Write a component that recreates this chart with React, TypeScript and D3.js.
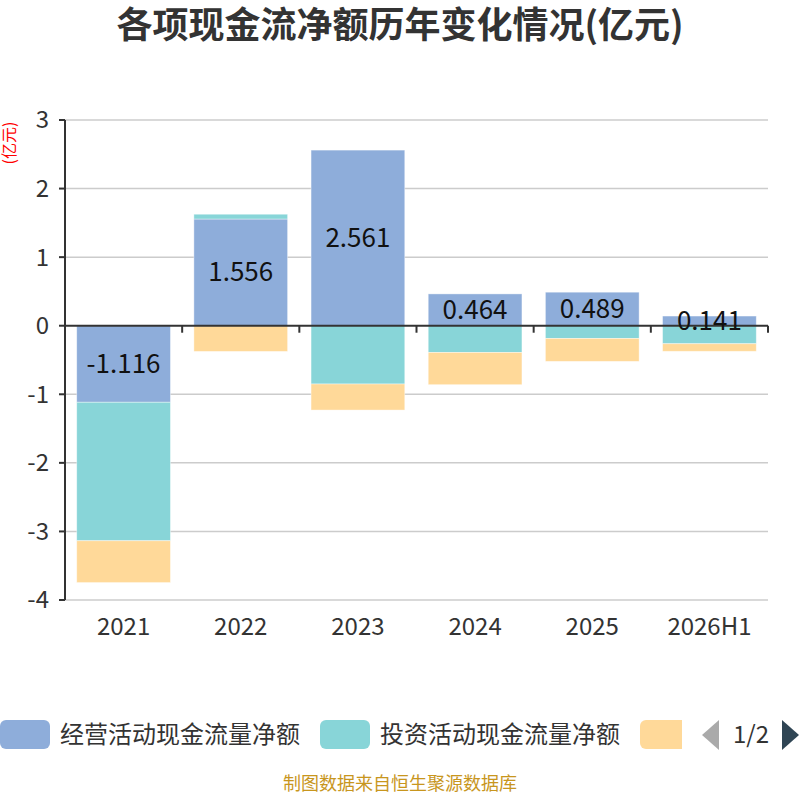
import React from 'react';
import * as d3 from 'd3';

const years = ['2021', '2022', '2023', '2024', '2025', '2026H1'];
const operating = [-1.116, 1.556, 2.561, 0.464, 0.489, 0.141];
const investing = [-2.02, 0.07, -0.85, -0.39, -0.185, -0.263];
const financing = [-0.61, -0.375, -0.38, -0.47, -0.335, -0.11];
const seriesNames = ['经营活动现金流量净额', '投资活动现金流量净额', '筹资活动现金流量净额'];
const seriesColors = ['#8EADDA', '#88D5D8', '#FFD999'];
const yTicks = [3, 2, 1, 0, -1, -2, -3, -4];

const W = 800;
const H = 800;
const left = 65;
const right = 768;
const top = 120;
const bottom = 600;
const font = '"Noto Sans CJK SC", "Noto Sans", sans-serif';

export default function App() {
  const x = d3.scaleBand<string>().domain(years).range([left, right]).paddingInner(0.2).paddingOuter(0.1);
  const band = d3.scaleBand<string>().domain(years).range([left, right]);
  const y = d3.scaleLinear().domain([-4, 3]).range([bottom, top]);

  const all = [operating, investing, financing];
  // stack positives and negatives separately, like echarts does
  const rects: { key: string; x: number; y: number; w: number; h: number; fill: string }[] = [];
  years.forEach((yr, i) => {
    let pos = 0;
    let neg = 0;
    all.forEach((s, k) => {
      const v = s[i];
      const base = v >= 0 ? pos : neg;
      const end = base + v;
      if (v >= 0) pos = end;
      else neg = end;
      rects.push({
        key: `${yr}-${k}`,
        x: x(yr)!,
        y: y(Math.max(base, end)),
        w: x.bandwidth(),
        h: Math.abs(y(base) - y(end)),
        fill: seriesColors[k],
      });
    });
  });

  return (
    <svg width={W} height={H} style={{ position: 'absolute', left: 0, top: 0, background: '#fff' }}>
      <text x={400} y={38} textAnchor="middle" fontSize={36} fontWeight="bold" fill="#333" fontFamily={font}>
        各项现金流净额历年变化情况(亿元)
      </text>
      <text
        transform={`translate(15,143) rotate(-90)`}
        textAnchor="middle"
        fontSize={16}
        fill="#ff0000"
        fontFamily={font}
      >
        (亿元)
      </text>

      {yTicks.map((t) => (
        <g key={t}>
          {t !== 0 && <line x1={left} x2={right} y1={y(t)} y2={y(t)} stroke="#ccc" strokeWidth={1.5} />}
          <line x1={left - 6} x2={left} y1={y(t)} y2={y(t)} stroke="#333" strokeWidth={2} />
          <text x={left - 16} y={y(t)} dy="0.35em" textAnchor="end" fontSize={24} fill="#333" fontFamily={font}>
            {t}
          </text>
        </g>
      ))}

      {rects.map((r) => (
        <rect key={r.key} x={r.x} y={r.y} width={r.w} height={r.h} fill={r.fill} stroke="#fff" strokeOpacity={0.5} strokeWidth={0.8} />
      ))}

      <line x1={left} x2={left} y1={top} y2={bottom} stroke="#333" strokeWidth={2} />
      <line x1={left} x2={right} y1={y(0)} y2={y(0)} stroke="#333" strokeWidth={2} />
      {years.map((yr) => (
        <line
          key={yr}
          x1={band(yr)! + band.bandwidth()}
          x2={band(yr)! + band.bandwidth()}
          y1={y(0)}
          y2={y(0) + 7}
          stroke="#333"
          strokeWidth={2}
        />
      ))}

      {operating.map((v, i) => (
        <text
          key={years[i]}
          x={x(years[i])! + x.bandwidth() / 2}
          y={(y(0) + y(v)) / 2}
          dy="0.35em"
          textAnchor="middle"
          fontSize={26}
          fill="#111"
          fontFamily={font}
        >
          {v.toFixed(3)}
        </text>
      ))}

      {years.map((yr) => (
        <text
          key={yr}
          x={band(yr)! + band.bandwidth() / 2}
          y={627}
          dy="0.35em"
          textAnchor="middle"
          fontSize={24}
          fill="#333"
          fontFamily={font}
        >
          {yr}
        </text>
      ))}

      <g fontFamily={font} fontSize={24} fill="#333">
        <rect x={0} y={720} width={50} height={29} rx={6} fill={seriesColors[0]} />
        <text x={60} y={735} dy="0.35em">{seriesNames[0]}</text>
        <rect x={320} y={720} width={50} height={29} rx={6} fill={seriesColors[1]} />
        <text x={380} y={735} dy="0.35em">{seriesNames[1]}</text>
        <clipPath id="lg3">
          <rect x={630} y={710} width={52} height={50} />
        </clipPath>
        <rect x={640} y={720} width={50} height={29} rx={6} fill={seriesColors[2]} clipPath="url(#lg3)" />
        <path d="M719,720 L702,735 L719,750 Z" fill="#aaa" />
        <text x={751} y={735} dy="0.35em" textAnchor="middle">1/2</text>
        <path d="M782,720 L799,735 L782,750 Z" fill="#2f4554" />
      </g>

      <text x={400} y={790} textAnchor="middle" fontSize={18} fill="#c8961e" fontFamily={font}>
        制图数据来自恒生聚源数据库
      </text>
    </svg>
  );
}
